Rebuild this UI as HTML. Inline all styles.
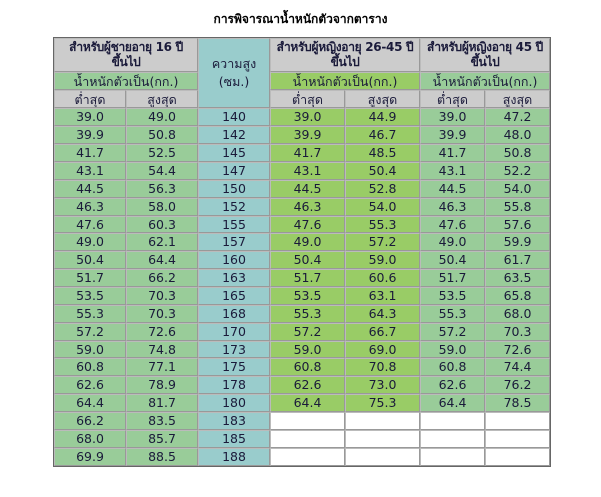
<!DOCTYPE html>
<html><head><meta charset="utf-8">
<style>
body{margin:0;background:#fff;width:601px;height:497px;overflow:hidden;font-family:"DejaVu Sans","Liberation Sans","Noto Sans CJK SC",sans-serif;}
.t{position:absolute;left:0;top:10px;width:601px;text-align:center;font-size:12px;font-weight:bold;color:#000;}
table{position:absolute;left:53px;top:37px;border-collapse:separate;border-spacing:0;border:1px solid #666;table-layout:fixed;}
td{border:1px solid #bbb;border-right-color:#999;border-bottom-color:#999;padding:0;text-align:center;font-size:12.5px;color:#1a1a3a;height:15px;line-height:15px;overflow:hidden;white-space:nowrap;}
tr.d td{height:15px;line-height:15px;}
tr.e td{height:16px;line-height:16px;}
.h{background:#cccccc;font-weight:bold;font-size:12px;letter-spacing:-0.3px;line-height:15px;height:32px;}
.s{background:#cccccc;height:16px;}
.c{background:#99cccc;}
.g{background:#99cc99;}
.l{background:#99cc66;}
.w{background:#fff;}
.sub{height:16px;}
</style></head><body>
<div class="t">การพิจารณาน้ำหนักตัวจากตาราง</div>
<table>
<colgroup><col style="width:72px"><col style="width:72px"><col style="width:72px"><col style="width:75px"><col style="width:75px"><col style="width:65px"><col style="width:65px"></colgroup>
<tr><td class="h" colspan="2">สำหรับผู้ชายอายุ 16 ปี<br>ขึ้นไป</td><td class="c" rowspan="3" style="white-space:normal;line-height:18px">ความสูง<br>(ซม.)</td><td class="h" colspan="2">สำหรับผู้หญิงอายุ 26-45 ปี<br>ขึ้นไป</td><td class="h" colspan="2">สำหรับผู้หญิงอายุ 45 ปี<br>ขึ้นไป</td></tr>
<tr><td class="g sub" colspan="2">น้ำหนักตัวเป็น(กก.)</td><td class="l sub" colspan="2">น้ำหนักตัวเป็น(กก.)</td><td class="g sub" colspan="2">น้ำหนักตัวเป็น(กก.)</td></tr>
<tr><td class="s">ต่ำสุด</td><td class="s">สูงสุด</td><td class="s">ต่ำสุด</td><td class="s">สูงสุด</td><td class="s">ต่ำสุด</td><td class="s">สูงสุด</td></tr>
<tr class="e"><td class="g">39.0</td><td class="g">49.0</td><td class="c">140</td><td class="l">39.0</td><td class="l">44.9</td><td class="g">39.0</td><td class="g">47.2</td></tr>
<tr class="e"><td class="g">39.9</td><td class="g">50.8</td><td class="c">142</td><td class="l">39.9</td><td class="l">46.7</td><td class="g">39.9</td><td class="g">48.0</td></tr>
<tr class="e"><td class="g">41.7</td><td class="g">52.5</td><td class="c">145</td><td class="l">41.7</td><td class="l">48.5</td><td class="g">41.7</td><td class="g">50.8</td></tr>
<tr class="e"><td class="g">43.1</td><td class="g">54.4</td><td class="c">147</td><td class="l">43.1</td><td class="l">50.4</td><td class="g">43.1</td><td class="g">52.2</td></tr>
<tr class="e"><td class="g">44.5</td><td class="g">56.3</td><td class="c">150</td><td class="l">44.5</td><td class="l">52.8</td><td class="g">44.5</td><td class="g">54.0</td></tr>
<tr class="e"><td class="g">46.3</td><td class="g">58.0</td><td class="c">152</td><td class="l">46.3</td><td class="l">54.0</td><td class="g">46.3</td><td class="g">55.8</td></tr>
<tr class="d"><td class="g">47.6</td><td class="g">60.3</td><td class="c">155</td><td class="l">47.6</td><td class="l">55.3</td><td class="g">47.6</td><td class="g">57.6</td></tr>
<tr class="e"><td class="g">49.0</td><td class="g">62.1</td><td class="c">157</td><td class="l">49.0</td><td class="l">57.2</td><td class="g">49.0</td><td class="g">59.9</td></tr>
<tr class="e"><td class="g">50.4</td><td class="g">64.4</td><td class="c">160</td><td class="l">50.4</td><td class="l">59.0</td><td class="g">50.4</td><td class="g">61.7</td></tr>
<tr class="e"><td class="g">51.7</td><td class="g">66.2</td><td class="c">163</td><td class="l">51.7</td><td class="l">60.6</td><td class="g">51.7</td><td class="g">63.5</td></tr>
<tr class="e"><td class="g">53.5</td><td class="g">70.3</td><td class="c">165</td><td class="l">53.5</td><td class="l">63.1</td><td class="g">53.5</td><td class="g">65.8</td></tr>
<tr class="e"><td class="g">55.3</td><td class="g">70.3</td><td class="c">168</td><td class="l">55.3</td><td class="l">64.3</td><td class="g">55.3</td><td class="g">68.0</td></tr>
<tr class="e"><td class="g">57.2</td><td class="g">72.6</td><td class="c">170</td><td class="l">57.2</td><td class="l">66.7</td><td class="g">57.2</td><td class="g">70.3</td></tr>
<tr class="d"><td class="g">59.0</td><td class="g">74.8</td><td class="c">173</td><td class="l">59.0</td><td class="l">69.0</td><td class="g">59.0</td><td class="g">72.6</td></tr>
<tr class="e"><td class="g">60.8</td><td class="g">77.1</td><td class="c">175</td><td class="l">60.8</td><td class="l">70.8</td><td class="g">60.8</td><td class="g">74.4</td></tr>
<tr class="e"><td class="g">62.6</td><td class="g">78.9</td><td class="c">178</td><td class="l">62.6</td><td class="l">73.0</td><td class="g">62.6</td><td class="g">76.2</td></tr>
<tr class="e"><td class="g">64.4</td><td class="g">81.7</td><td class="c">180</td><td class="l">64.4</td><td class="l">75.3</td><td class="g">64.4</td><td class="g">78.5</td></tr>
<tr class="e"><td class="g">66.2</td><td class="g">83.5</td><td class="c">183</td><td class="w"></td><td class="w"></td><td class="w"></td><td class="w"></td></tr>
<tr class="e"><td class="g">68.0</td><td class="g">85.7</td><td class="c">185</td><td class="w"></td><td class="w"></td><td class="w"></td><td class="w"></td></tr>
<tr class="e"><td class="g">69.9</td><td class="g">88.5</td><td class="c">188</td><td class="w"></td><td class="w"></td><td class="w"></td><td class="w"></td></tr>
</table>
</body></html>
